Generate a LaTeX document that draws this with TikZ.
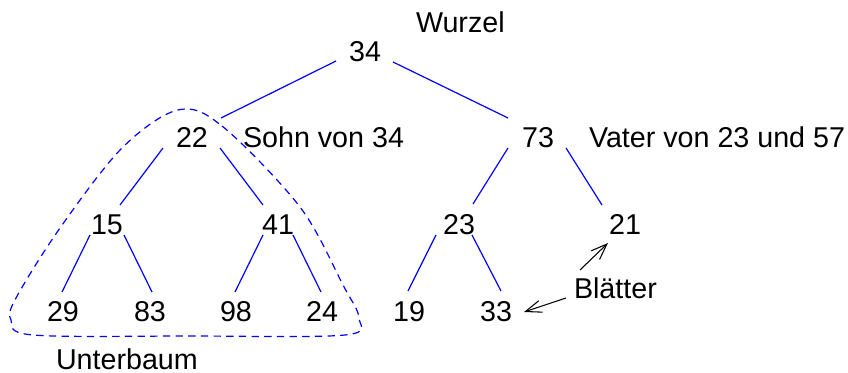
\documentclass[tikz,border=0pt]{standalone}
\usepackage{fontspec}
\setmainfont{Liberation Sans}
\usetikzlibrary{calc,arrows.meta}
\begin{document}
\begin{tikzpicture}[x=0.75pt,y=-0.75pt,
  every node/.style={inner sep=0pt,outer sep=0pt,font=\fontsize{21.5}{25}\selectfont},
  num/.style={anchor=base},
  lbl/.style={anchor=base west},
  edge/.style={draw=blue,line width=0.9pt},
  pointer/.style={draw=black,line width=0.8pt,-{Straight Barb[length=12pt,width=9pt,line width=0.8pt]}},
  outline/.style={draw=blue,line width=0.9pt,dash pattern=on 5.5pt off 4pt}]
\useasboundingbox (0,0) rectangle (848,373);
% nodes
\node[num] (n34) at (365,62) {34};
\node[num] (n22) at (192,148) {22};
\node[num] (n73) at (538,148) {73};
\node[num] (n15) at (107,235) {15};
\node[num] (n41) at (278,235) {41};
\node[num] (n23) at (459,235) {23};
\node[num] (n21) at (625,235) {21};
\node[num] (n29) at (63,322) {29};
\node[num] (n83) at (150,322) {83};
\node[num] (n98) at (236,322) {98};
\node[num] (n24) at (322,322) {24};
\node[num] (n19) at (409,322) {19};
\node[num] (n33) at (496,322) {33};
% labels
\node[lbl] (wurzel) at (416,33) {Wurzel};
\node[lbl] (sohn) at (243,148) {Sohn von 34};
\node[lbl] (vater) at (589,148) {Vater von 23 und 57};
\node[lbl] (blaetter) at (574,299) {Blätter};
\node[lbl] (unterbaum) at (56,369.5) {Unterbaum};
% edges
\draw[edge] ($(n34.base)+(-29,-1)$) -- ($(n22.base)+(29,-30)$);
\draw[edge] ($(n34.base)+(28,0)$) -- ($(n73.base)+(-30,-30)$);
\draw[edge] ($(n22.base)+(-29,0)$) -- ($(n15.base)+(13,-30)$);
\draw[edge] ($(n22.base)+(28,0)$) -- ($(n41.base)+(-15,-30)$);
\draw[edge] ($(n73.base)+(-30,0)$) -- ($(n23.base)+(14,-31)$);
\draw[edge] ($(n73.base)+(28,0)$) -- ($(n21.base)+(-23,-30)$);
\draw[edge] ($(n15.base)+(-17,0)$) -- ($(n29.base)+(-1,-30)$);
\draw[edge] ($(n15.base)+(17,0)$) -- ($(n83.base)+(2,-30)$);
\draw[edge] ($(n41.base)+(-15,0)$) -- ($(n98.base)+(-1,-30)$);
\draw[edge] ($(n41.base)+(15,0)$) -- ($(n24.base)+(-1,-30)$);
\draw[edge] ($(n23.base)+(-23,0)$) -- ($(n19.base)+(-1,-31)$);
\draw[edge] ($(n23.base)+(13,0)$) -- ($(n33.base)+(5,-31)$);
% pointers
\draw[pointer] ($(blaetter.base west)+(6,-29)$) -- ($(n21.base)+(-17,8)$);
\draw[pointer] ($(blaetter.base west)+(-8,-1)$) -- ($(n33.base)+(28,-10)$);
% subtree outline
\draw[outline] plot[smooth cycle,tension=0.55] coordinates {
  (178,110) (222,126) (300,207) (343,285) (359,318) (345,335)
  (190,336) (33,335) (11,320) (16,298) (60,228) (122,148)};
\end{tikzpicture}
\end{document}
